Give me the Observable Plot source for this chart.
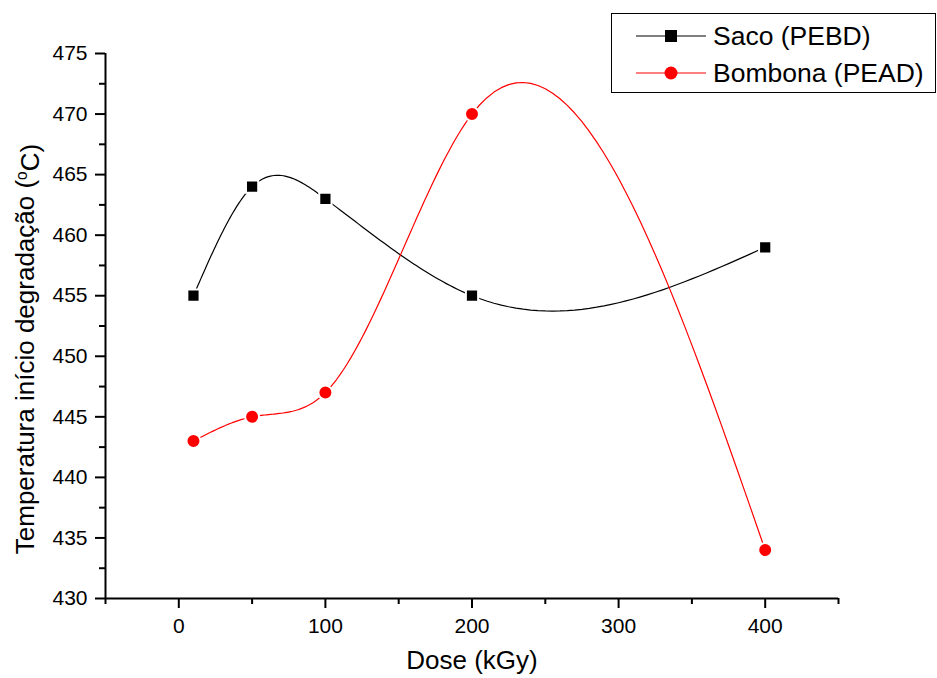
<!DOCTYPE html>
<html>
<head>
<meta charset="utf-8">
<script src="https://cdn.jsdelivr.net/npm/d3@7"></script>
<script src="https://cdn.jsdelivr.net/npm/@observablehq/plot@0.6"></script>
<style>
body { margin: 0; background: #fff; font-family: "Liberation Sans", Arial, sans-serif; }
#wrap { position: relative; width: 937px; height: 678px; }
#legend { position: absolute; left: 611px; top: 13px; width: 325px; height: 80px; border: 1.3px solid #000; background: #fff; box-sizing: border-box; }
.row { position: absolute; left: 0; height: 30px; display: flex; align-items: center; font-size: 26.5px; color: #000; white-space: nowrap; }
.row svg { margin-left: 24px; margin-right: 7px; }
</style>
</head>
<body>
<div id="wrap"><div id="chart"></div><div id="legend"></div></div>
<script>
const doses = [10, 50, 100, 200, 400];
const sacoPEBD = [455, 464, 463, 455, 459];
const bombonaPEAD = [443, 445, 447, 470, 434];
const seriesNames = ["Saco (PEBD)", "Bombona (PEAD)"];
const seriesColors = ["#000000", "#ff0000"];
const xMajorTicks = [0, 100, 200, 300, 400];
const xMinorTicks = [-50, 50, 150, 250, 350, 450];
const yMajorTicks = [430, 435, 440, 445, 450, 455, 460, 465, 470, 475];
const yMinorTicks = [432.5, 437.5, 442.5, 447.5, 452.5, 457.5, 462.5, 467.5, 472.5];
const yTitle = "Temperatura início degradação (oC)";
const xTitle = "Dose (kGy)";

const rows = [];
doses.forEach((d, i) => rows.push({dose: d, temp: sacoPEBD[i], s: seriesNames[0]}));
doses.forEach((d, i) => rows.push({dose: d, temp: bombonaPEAD[i], s: seriesNames[1]}));
const saco = rows.filter(r => r.s === seriesNames[0]);
const bomb = rows.filter(r => r.s === seriesNames[1]);

// Natural cubic spline of y as a function of x (Origin-style spline connection)
function splineX(context) {
  let pts = [];
  return {
    areaStart() {}, areaEnd() {},
    lineStart() { pts = []; },
    point(x, y) { pts.push([+x, +y]); },
    lineEnd() {
      const n = pts.length;
      if (n === 0) return;
      const x = pts.map(p => p[0]), y = pts.map(p => p[1]);
      context.moveTo(x[0], y[0]);
      if (n < 3) { for (let i = 1; i < n; i++) context.lineTo(x[i], y[i]); return; }
      const h = [], a = [], b = [], c = [], r = [];
      for (let i = 0; i < n - 1; i++) h.push(x[i + 1] - x[i]);
      const M = new Array(n).fill(0);
      const m = n - 2;
      for (let i = 1; i <= m; i++) {
        a.push(h[i - 1]); b.push(2 * (h[i - 1] + h[i])); c.push(h[i]);
        r.push(6 * ((y[i + 1] - y[i]) / h[i] - (y[i] - y[i - 1]) / h[i - 1]));
      }
      for (let i = 1; i < m; i++) {
        const w = a[i] / b[i - 1];
        b[i] -= w * c[i - 1]; r[i] -= w * r[i - 1];
      }
      const sol = new Array(m);
      sol[m - 1] = r[m - 1] / b[m - 1];
      for (let i = m - 2; i >= 0; i--) sol[i] = (r[i] - c[i] * sol[i + 1]) / b[i];
      for (let i = 0; i < m; i++) M[i + 1] = sol[i];
      for (let i = 0; i < n - 1; i++) {
        const steps = 40;
        for (let k = 1; k <= steps; k++) {
          const t = x[i] + h[i] * k / steps;
          const A = (x[i + 1] - t) / h[i], B = (t - x[i]) / h[i];
          const v = A * y[i] + B * y[i + 1] + ((A * A * A - A) * M[i] + (B * B * B - B) * M[i + 1]) * h[i] * h[i] / 6;
          context.lineTo(t, v);
        }
      }
    }
  };
}

const font = "Liberation Sans, Arial, sans-serif";
const chart = Plot.plot({
  width: 937,
  height: 678,
  marginLeft: 105,
  marginRight: 99,
  marginTop: 53,
  marginBottom: 80,
  style: {fontFamily: font, color: "#000", background: "#fff"},
  x: {domain: [-50, 450]},
  y: {domain: [430, 475]},
  marks: [
    Plot.axisX({ticks: xMajorTicks, tickSize: 10, tickPadding: 10, fontSize: 21, label: null, strokeWidth: 2}),
    Plot.axisX({ticks: xMinorTicks, tickSize: 6, tickFormat: () => "", label: null, strokeWidth: 2}),
    Plot.axisY({ticks: yMajorTicks, tickSize: 10, tickPadding: 8, fontSize: 21, label: null, strokeWidth: 2}),
    Plot.axisY({ticks: yMinorTicks, tickSize: 6, tickFormat: () => "", label: null, strokeWidth: 2}),
    Plot.ruleY([430], {strokeWidth: 2}),
    Plot.ruleX([-50], {strokeWidth: 2}),
    Plot.text([yTitle], {frameAnchor: "left", textAnchor: "middle", rotate: -90, dx: -80, dy: 23, fontSize: 26, fill: "#000", className: "ytitle"}),
    Plot.text([xTitle], {frameAnchor: "bottom", dy: 70, fontSize: 26, fill: "#000"}),
    Plot.line(saco, {x: "dose", y: "temp", stroke: seriesColors[0], strokeWidth: 1.2, curve: splineX}),
    Plot.line(bomb, {x: "dose", y: "temp", stroke: seriesColors[1], strokeWidth: 1.2, curve: splineX}),
    Plot.dot(saco, {x: "dose", y: "temp", symbol: "square", r: 6.9, fill: seriesColors[0], stroke: "#fff", strokeWidth: 2}),
    Plot.dot(bomb, {x: "dose", y: "temp", symbol: "circle", r: 7, fill: seriesColors[1], stroke: "#fff", strokeWidth: 2})
  ]
});
document.getElementById("chart").appendChild(chart);

// superscript "o" in the y title, as in the reference
d3.select(chart).selectAll("text").filter(function () { return this.textContent === yTitle; })
  .each(function () {
    const t = d3.select(this);
    t.text(null);
    t.append("tspan").text("Temperatura início degradação (");
    t.append("tspan").attr("dy", "-0.45em").attr("font-size", "0.6em").text("o");
    t.append("tspan").attr("dy", "0.45em").text("C)");
  });

const legend = document.getElementById("legend");
seriesNames.forEach((name, i) => {
  const row = document.createElement("div");
  row.className = "row";
  row.style.top = (7 + i * 37) + "px";
  const sym = i === 0
    ? `<rect x="29" y="9" width="12" height="12" fill="${seriesColors[i]}"/>`
    : `<circle cx="35" cy="15" r="6.5" fill="${seriesColors[i]}"/>`;
  row.innerHTML = `<svg width="70" height="30"><line x1="0" x2="70" y1="15" y2="15" stroke="${seriesColors[i]}" stroke-width="1.2"/>${sym}</svg><span>${name}</span>`;
  legend.appendChild(row);
});
</script>
</body>
</html>
